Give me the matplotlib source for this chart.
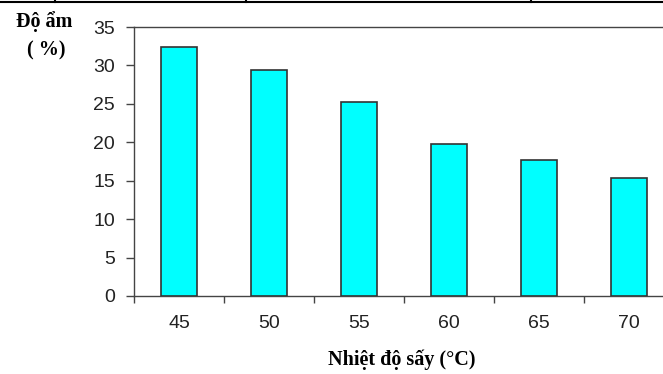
import matplotlib
matplotlib.use('Agg')
import matplotlib.pyplot as plt
from matplotlib.lines import Line2D
import numpy as np

# nhiet do say (C) va do am (%)
nhiet_do = ['45', '50', '55', '60', '65', '70']
do_am = [32.4, 29.4, 25.2, 19.8, 17.7, 15.3]
y_ticks = [0, 5, 10, 15, 20, 25, 30, 35]

serif = ['Liberation Serif', 'DejaVu Serif']
sans = ['Liberation Sans', 'DejaVu Sans']

fig = plt.figure(figsize=(6.63, 3.74), dpi=100)
ax = fig.add_axes([134 / 663, 78 / 374, 540 / 663, 269 / 374])

x = np.arange(len(nhiet_do))
ax.bar(x, do_am, width=0.4, color='#00ffff', edgecolor='#333333', linewidth=1.2, zorder=3)

ax.set_xlim(-0.5, len(nhiet_do) - 0.5)
ax.set_ylim(0, 35)
ax.set_yticks(y_ticks)
ax.set_yticklabels([str(v) for v in y_ticks], family=sans, fontsize=14, color='#222222')

# vach chia giua cac cot, nhan o giua
ax.set_xticks(np.arange(-0.5, len(nhiet_do), 1.0))
ax.set_xticklabels([])
ax.set_xticks(x, minor=True)
ax.set_xticklabels(nhiet_do, minor=True, family=sans, fontsize=14, color='#222222')
ax.tick_params(axis='x', which='major', direction='out', length=5, width=1, color='#444444')
ax.tick_params(axis='x', which='minor', length=0, pad=14)
ax.tick_params(axis='y', direction='out', length=5.8, width=1, color='#444444', pad=8)

ax.spines['right'].set_visible(False)
for s in ['left', 'bottom', 'top']:
    ax.spines[s].set_color('#444444')
    ax.spines[s].set_linewidth(1)

fig.text(44 / 663, 1 - 22 / 374, 'Độ ẩm', family=serif, fontweight='bold', fontsize=14.5,
         ha='center', va='center')
fig.text(46 / 663, 1 - 50 / 374, '( %)', family=serif, fontweight='bold', fontsize=14.5,
         ha='center', va='center')
fig.text(402 / 663, 1 - 360 / 374, 'Nhiệt độ sấy (°C)', family=serif, fontweight='bold',
         fontsize=14.5, ha='center', va='center')

# duong ke bang o tren
fig.add_artist(Line2D([0, 1], [1 - 2 / 374, 1 - 2 / 374], color='black', lw=1.5))
for xv in [55, 246, 531]:
    fig.add_artist(Line2D([xv / 663, xv / 663], [1 - 2 / 374, 1], color='black', lw=1.5))

fig.savefig('out.png', dpi=100)
